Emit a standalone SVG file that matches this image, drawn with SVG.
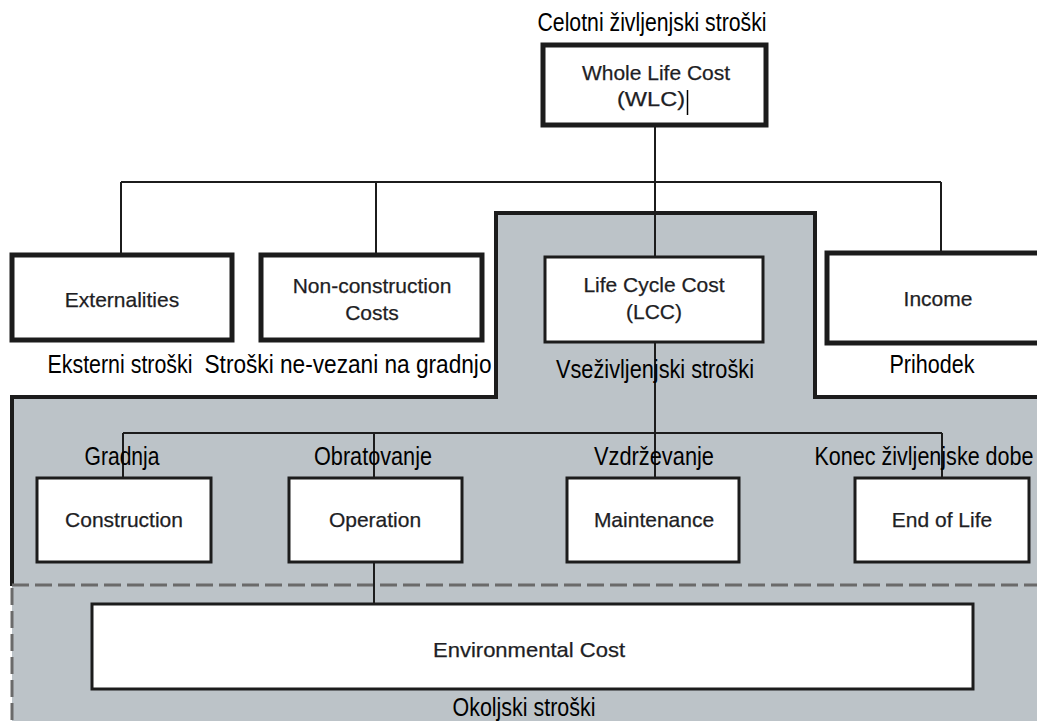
<svg xmlns="http://www.w3.org/2000/svg" width="1037" height="721" viewBox="0 0 1037 721">
<style>
.bg{fill:#ffffff}
.region{fill:#bcc3c8;stroke:none}
.regionEdge{fill:none;stroke:#1c1c1c;stroke-width:4;stroke-linejoin:miter}
.dash{fill:none;stroke:#6a6a6a;stroke-width:3;stroke-dasharray:17 6}
.thick{fill:#ffffff;stroke:#1c1c1c;stroke-width:5}
.thin{fill:#ffffff;stroke:#1c1c1c;stroke-width:3}
.conn{fill:none;stroke:#1c1c1c;stroke-width:2}
.bt{font-family:"Liberation Sans",Arial,sans-serif;font-size:21px;fill:#1e1e24;text-anchor:middle;stroke:#1e1e24;stroke-width:0.25}
.lb{font-family:"Liberation Sans Narrow","Liberation Sans",Arial,sans-serif;font-size:25px;fill:#000000;text-anchor:middle}
</style>
<rect class="bg" x="0" y="0" width="1037" height="721"/>
<g id="lcc-region">
<polygon class="region" points="496,213 815,213 815,397 1037,397 1037,721 12,721 12,397 496,397"/>
<polyline class="regionEdge" points="12,586 12,397 496,397 496,213 815,213 815,397 1037,397"/>
<line class="dash" x1="12" y1="585" x2="1037" y2="585"/>
<line class="dash" x1="12" y1="588" x2="12" y2="721"/>
</g>
<g id="connectors">
<line class="conn" x1="655" y1="126" x2="655" y2="257"/>
<line class="conn" x1="121" y1="182" x2="941" y2="182"/>
<line class="conn" x1="121" y1="182" x2="121" y2="255"/>
<line class="conn" x1="376" y1="182" x2="376" y2="255"/>
<line class="conn" x1="941" y1="182" x2="941" y2="253"/>
<line class="conn" x1="655" y1="342" x2="655" y2="478"/>
<line class="conn" x1="123" y1="433" x2="942" y2="433"/>
<line class="conn" x1="123" y1="433" x2="123" y2="478"/>
<line class="conn" x1="374" y1="433" x2="374" y2="478"/>
<line class="conn" x1="942" y1="433" x2="942" y2="478"/>
<line class="conn" x1="374" y1="562" x2="374" y2="604"/>
</g>
<g id="wlc">
<text class="lb" x="652" y="31" textLength="229" lengthAdjust="spacingAndGlyphs">Celotni življenjski stroški</text>
<rect class="thick" x="543" y="45" width="223" height="80"/>
<text class="bt" x="656" y="80">Whole Life Cost</text>
<text class="bt" x="651" y="106" textLength="68" lengthAdjust="spacingAndGlyphs">(WLC)</text>
<line x1="687.5" y1="90" x2="687.5" y2="115" stroke="#000" stroke-width="1.5"/>
</g>
<g id="externalities">
<rect class="thick" x="12" y="255" width="220" height="85"/>
<text class="bt" x="122" y="307">Externalities</text>
<text class="lb" x="120" y="373" textLength="145" lengthAdjust="spacingAndGlyphs">Eksterni stroški</text>
</g>
<g id="non-construction">
<rect class="thick" x="261" y="255" width="221" height="85"/>
<text class="bt" x="372" y="293">Non-construction</text>
<text class="bt" x="372" y="320">Costs</text>
<text class="lb" x="348" y="373" textLength="287" lengthAdjust="spacingAndGlyphs">Stroški ne-vezani na gradnjo</text>
</g>
<g id="lcc">
<rect class="thin" x="545" y="257" width="218" height="85"/>
<text class="bt" x="654" y="292">Life Cycle Cost</text>
<text class="bt" x="654" y="319">(LCC)</text>
<text class="lb" x="655" y="378" textLength="198" lengthAdjust="spacingAndGlyphs">Vseživljenjski stroški</text>
</g>
<g id="income">
<rect class="thick" x="827" y="253" width="220" height="90"/>
<text class="bt" x="938" y="306">Income</text>
<text class="lb" x="932" y="373" textLength="85" lengthAdjust="spacingAndGlyphs">Prihodek</text>
</g>
<g id="construction">
<text class="lb" x="122" y="465" textLength="75" lengthAdjust="spacingAndGlyphs">Gradnja</text>
<rect class="thin" x="37" y="478" width="174" height="84"/>
<text class="bt" x="124" y="527">Construction</text>
</g>
<g id="operation">
<text class="lb" x="373" y="465" textLength="118" lengthAdjust="spacingAndGlyphs">Obratovanje</text>
<rect class="thin" x="289" y="478" width="173" height="84"/>
<text class="bt" x="375" y="527">Operation</text>
</g>
<g id="maintenance">
<text class="lb" x="654" y="465" textLength="120" lengthAdjust="spacingAndGlyphs">Vzdrževanje</text>
<rect class="thin" x="567" y="478" width="172" height="84"/>
<text class="bt" x="654" y="527">Maintenance</text>
</g>
<g id="end-of-life">
<text class="lb" x="924" y="465" textLength="219" lengthAdjust="spacingAndGlyphs">Konec življenjske dobe</text>
<rect class="thin" x="855" y="478" width="174" height="84"/>
<text class="bt" x="942" y="527">End of Life</text>
</g>
<g id="environmental">
<rect class="thin" x="92" y="604" width="881" height="85"/>
<text class="bt" x="529" y="657" textLength="192" lengthAdjust="spacingAndGlyphs">Environmental Cost</text>
<text class="lb" x="524" y="716" textLength="143" lengthAdjust="spacingAndGlyphs">Okoljski stroški</text>
</g>
</svg>
